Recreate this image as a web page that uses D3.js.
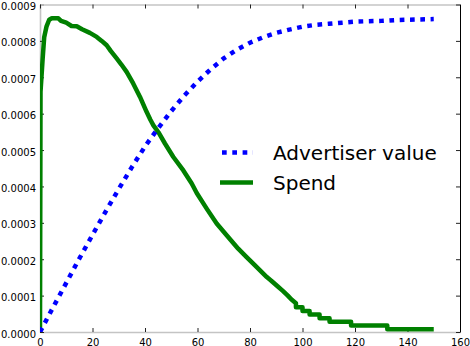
<!DOCTYPE html>
<html>
<head>
<meta charset="utf-8">
<script src="https://cdn.jsdelivr.net/npm/d3@7"></script>
<style>
body { margin: 0; background: #fff; }
</style>
</head>
<body>
<svg id="chart" width="470" height="346"></svg>
<script>
// values
let valueX = [0, 5, 10, 15, 20, 25, 30, 35, 40, 45, 50, 55, 60, 65, 70, 75, 80, 85, 90, 95,
              100, 105, 110, 115, 120, 125, 130, 135, 140, 145, 150];
let valueY = [0, 0.000068, 0.000135, 0.000202, 0.000267, 0.000331, 0.000393, 0.000453, 0.000510,
              0.000560, 0.000607, 0.000650, 0.000688, 0.000722, 0.000752, 0.000776, 0.000795,
              0.000810, 0.000822, 0.000831, 0.000839, 0.000844, 0.000847, 0.000850, 0.000853,
              0.000854, 0.000855, 0.000857, 0.000858, 0.000859, 0.000860];

let spendX = [0, 0.2, 1.0, 1.6, 2.5, 3.5, 4.5, 7, 8, 10, 12, 14, 16, 19, 21.6, 23.5, 25.4, 27,
              29.2, 31, 33, 35.5, 38.1, 40.6, 42, 43.2, 45.1, 47.6, 50.8, 54.6, 57.8, 59.7, 63.5,
              67.3, 71.1, 75.5, 78.7, 81.9, 86.4, 88.1, 90.6, 92.5, 94.4, 95.7, 97.5,
              97.5, 100, 100, 102.7, 102.7, 106.5, 106.5, 110.3, 110.3, 118.5, 118.5, 132.3, 132.3, 150];
let spendY = [0, 0.00066, 0.00075, 0.00081, 0.00084, 0.000858, 0.000862, 0.000862, 0.000855,
              0.000850, 0.000841, 0.000840, 0.000832, 0.000822, 0.000811, 0.000800, 0.000788,
              0.000772, 0.000752, 0.000735, 0.000715, 0.000683, 0.000646, 0.000605, 0.000584,
              0.000568, 0.000549, 0.000518, 0.000481, 0.000444, 0.000408, 0.000382, 0.000339,
              0.000298, 0.000266, 0.000229, 0.000206, 0.000183, 0.000151, 0.000141, 0.000125,
              0.000113, 0.000100, 0.000090, 0.000079,
              0.000068, 0.000068, 0.000058, 0.000058, 0.000048, 0.000048, 0.000038, 0.000038,
              0.000028, 0.000028, 0.000018, 0.000018, 0.0000075, 0.0000075];

let xTicks = [0, 20, 40, 60, 80, 100, 120, 140, 160];
let yTicks = [0, 0.0001, 0.0002, 0.0003, 0.0004, 0.0005, 0.0006, 0.0007, 0.0008, 0.0009];
let seriesNames = ['Advertiser value', 'Spend'];
let seriesColors = ['#0000ff', '#008000'];

let svg = d3.select('#chart');

let x = d3.scaleLinear().domain([0, 160]).range([40, 460]);
let y = d3.scaleLinear().domain([0, 0.0009]).range([332, 4.5]);

svg.append('clipPath')
    .attr('id', 'plot-clip')
  .append('rect')
    .attr('x', x(0))
    .attr('y', y(0.0009))
    .attr('width', x(160) - x(0))
    .attr('height', y(0) - y(0.0009));

// axes, ticks pointing inward on all four sides
let bottomAxis = svg.append('g')
    .attr('transform', `translate(0,${y(0)})`)
    .call(d3.axisBottom(x).tickValues(xTicks).tickSizeInner(-4).tickSizeOuter(0)
        .tickPadding(6.5).tickFormat(d3.format('d')));

let leftAxis = svg.append('g')
    .attr('transform', `translate(${x(0)},0)`)
    .call(d3.axisLeft(y).tickValues(yTicks).tickSizeInner(-4).tickSizeOuter(0)
        .tickPadding(4).tickFormat(d3.format('.4f')));

let topAxis = svg.append('g')
    .attr('transform', `translate(0,${y(0.0009)})`)
    .call(d3.axisTop(x).tickValues(xTicks).tickSizeInner(-4).tickSizeOuter(0).tickFormat(''));

let rightAxis = svg.append('g')
    .attr('transform', `translate(${x(160)},0)`)
    .call(d3.axisRight(y).tickValues(yTicks).tickSizeInner(-4).tickSizeOuter(0).tickFormat(''));

svg.selectAll('.tick text')
    .attr('font-family', 'DejaVu Sans')
    .attr('font-size', 10)
    .attr('fill', '#000');
leftAxis.selectAll('.tick text').attr('dy', '0.5em');

[bottomAxis, leftAxis, topAxis].forEach(a => {
    a.select('.domain').attr('stroke', '#c4c4c4').attr('stroke-width', 1.6);
});
rightAxis.select('.domain').attr('stroke', '#000');
svg.selectAll('.tick line').attr('stroke', '#222');

let plot = svg.append('g').attr('clip-path', 'url(#plot-clip)');

let line = d3.line()
    .x(d => x(d[0]))
    .y(d => y(d[1]));

plot.append('path')
    .attr('d', line(d3.zip(spendX, spendY)))
    .attr('fill', 'none')
    .attr('stroke', seriesColors[1])
    .attr('stroke-width', 4.5)
    .attr('stroke-linejoin', 'round');

plot.append('path')
    .attr('d', line(d3.zip(valueX, valueY)))
    .attr('fill', 'none')
    .attr('stroke', seriesColors[0])
    .attr('stroke-width', 4.5)
    .attr('stroke-dasharray', '4.7,5.6');

// legend, no frame
let legend = svg.append('g')
    .attr('font-family', 'DejaVu Sans')
    .attr('font-size', 20);

seriesNames.forEach((name, i) => {
    let ly = 159.5 + i * 30;
    let sample = legend.append('line')
        .attr('x1', i == 0 ? 222 : 220)
        .attr('x2', 253)
        .attr('y1', ly - 7)
        .attr('y2', ly - 7)
        .attr('stroke', seriesColors[i])
        .attr('stroke-width', 4.5);
    if (i == 0) sample.attr('stroke-dasharray', '4.7,5.6');

    legend.append('text')
        .attr('x', 273)
        .attr('y', ly)
        .attr('fill', '#000')
        .text(name);
});
</script>
</body>
</html>
